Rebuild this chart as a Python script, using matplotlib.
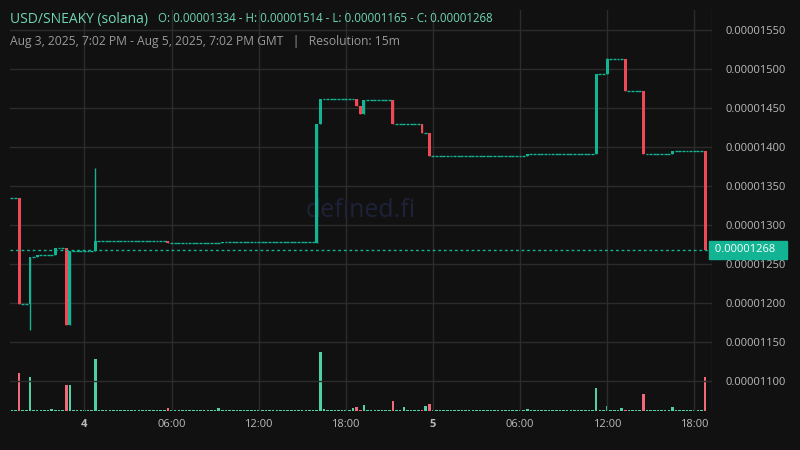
import matplotlib
matplotlib.use("Agg")
import matplotlib.pyplot as plt

plt.rcParams["font.family"] = ["Open Sans", "DejaVu Sans"]

BG = "#111111"
GRID = "#2c2c2c"
UP = "#12b493"
DOWN = "#ee4a55"
UP_V = "#4fd1a5"
DOWN_V = "#f06a7a"

N_CANDLES = 192
START_PRICE = 1334e-8
# event candles: index, open, close, high, low (x1e-8); flat in between
ev_idx = [2, 5, 7, 12, 15, 16, 23, 43, 58, 84, 85, 95, 96, 97, 105, 113, 115, 142, 161, 164, 169, 174, 182, 191]
ev_open = [1334, 1199, 1259, 1262, 1270, 1172, 1266, 1280, 1277, 1277, 1430, 1462, 1452, 1442, 1460, 1430, 1418, 1388, 1391, 1494, 1513, 1472, 1391, 1395]
ev_close = [1199, 1259, 1262, 1270, 1172, 1266, 1280, 1277, 1278, 1430, 1462, 1452, 1442, 1460, 1430, 1418, 1388, 1391, 1494, 1513, 1472, 1391, 1395, 1268]
ev_high = [1334, 1259, 1262, 1270, 1270, 1266, 1373, 1280, 1278, 1430, 1462, 1462, 1452, 1460, 1460, 1430, 1418, 1391, 1494, 1514, 1513, 1472, 1395, 1395]
ev_low = [1199, 1165, 1259, 1262, 1172, 1172, 1266, 1277, 1277, 1277, 1430, 1452, 1442, 1442, 1430, 1418, 1388, 1388, 1391, 1494, 1472, 1391, 1391, 1268]
# volume spikes (relative), others baseline
vol_idx = [2, 5, 11, 15, 16, 23, 43, 57, 85, 86, 94, 95, 97, 105, 108, 114, 115, 142, 161, 164, 168, 174, 182, 191]
vol_val = [38, 34, 2, 26, 26, 52, 3, 3, 59, 2, 3, 4, 6, 10, 4, 5, 7, 2, 23, 5, 3, 17, 4, 34]
LAST = 1268e-8

# expand into per-candle OHLC
opens, closes, highs, lows = [], [], [], []
prev = START_PRICE
evmap = {i: k for k, i in enumerate(ev_idx)}
for i in range(N_CANDLES):
    if i in evmap:
        k = evmap[i]
        o, c, h, l = ev_open[k]*1e-8, ev_close[k]*1e-8, ev_high[k]*1e-8, ev_low[k]*1e-8
    else:
        o = c = h = l = prev
    opens.append(o); closes.append(c); highs.append(h); lows.append(l)
    prev = c
vols = [0.6] * N_CANDLES
for i, v in zip(vol_idx, vol_val):
    vols[i] = v

fig = plt.figure(figsize=(8, 4.5), dpi=100)
fig.patch.set_facecolor(BG)
pos = [10/800, 39/450, 702/800, 401/450]
ax = fig.add_axes(pos)
axv = fig.add_axes(pos, sharex=ax)
axv.set_zorder(0); ax.set_zorder(1)
ax.patch.set_alpha(0)
axv.set_facecolor(BG)

w = 0.8
for i in range(N_CANDLES):
    o, c, h, l = opens[i], closes[i], highs[i], lows[i]
    col = UP if c >= o else DOWN
    if o == c:
        ax.plot([i - w/2, i + w/2], [o, o], color=col, lw=1, solid_capstyle="butt")
    else:
        ax.vlines(i, l, h, color=col, lw=1)
        ax.bar(i, abs(c - o), bottom=min(o, c), width=w, color=col, lw=0)
    vcol = UP_V if c >= o else DOWN_V
    axv.bar(i, vols[i], width=0.7, color=vcol, lw=0)

ax.axhline(LAST, color=UP, ls=(0, (2, 2)), lw=1)
ax.set_xlim(-0.5, 192.9)
ax.set_ylim(1.0615e-5, 1.5756e-5)
axv.set_ylim(0, 401)

yt = [1.1e-5 + 0.05e-5*k for k in range(10)]
ax.set_yticks(yt)
ax.set_yticklabels([f"{v:.8f}" for v in yt])
ax.yaxis.tick_right()
xt = [20, 44, 68, 92, 116, 140, 164, 188]
xl = ["4", "06:00", "12:00", "18:00", "5", "06:00", "12:00", "18:00"]
ax.set_xticks(xt)
ax.set_xticklabels(xl)
for lab in ax.get_xticklabels():
    if lab.get_text() in ("4", "5"):
        lab.set_fontweight("bold")
ax.tick_params(colors="#bbbbbb", labelsize=8, length=0, pad=6)
ax.tick_params(axis="y", pad=10)
axv.tick_params(left=False, labelleft=False, bottom=False, labelbottom=False)
for a in (ax, axv):
    for s in a.spines.values():
        s.set_visible(False)
axv.set_yticks([])
for x in xt:
    axv.axvline(x, color=GRID, lw=1)
for y in yt:
    ax.axhline(y, color=GRID, lw=1, zorder=0)
ax.axvline(192.9, color=GRID, lw=1)

ax.text(0.5, 0.5, "defined.fi", transform=ax.transAxes, color="#1e2238",
        fontsize=18, ha="center", va="center", zorder=0)
ax.text(1.0, (LAST - 1.0615e-5)/(1.5756e-5 - 1.0615e-5), f" {LAST:.8f}   ",
        transform=ax.transAxes, color="white", fontsize=8, va="center", ha="left",
        bbox=dict(boxstyle="square,pad=0.3", fc=UP, ec=UP))

fig.text(10/800, 1 - 19/450, "USD/SNEAKY (solana)", color="#6fd6b4", fontsize=10, va="center")
fig.text(158/800, 1 - 19/450, "O: 0.00001334 - H: 0.00001514 - L: 0.00001165 - C: 0.00001268",
         color="#6fd6b4", fontsize=8.3, va="center")
fig.text(10/800, 1 - 41/450, "Aug 3, 2025, 7:02 PM - Aug 5, 2025, 7:02 PM GMT   |   Resolution: 15m",
         color="#999999", fontsize=8.7, va="center")

fig.savefig("out.png", dpi=100, facecolor=BG)
